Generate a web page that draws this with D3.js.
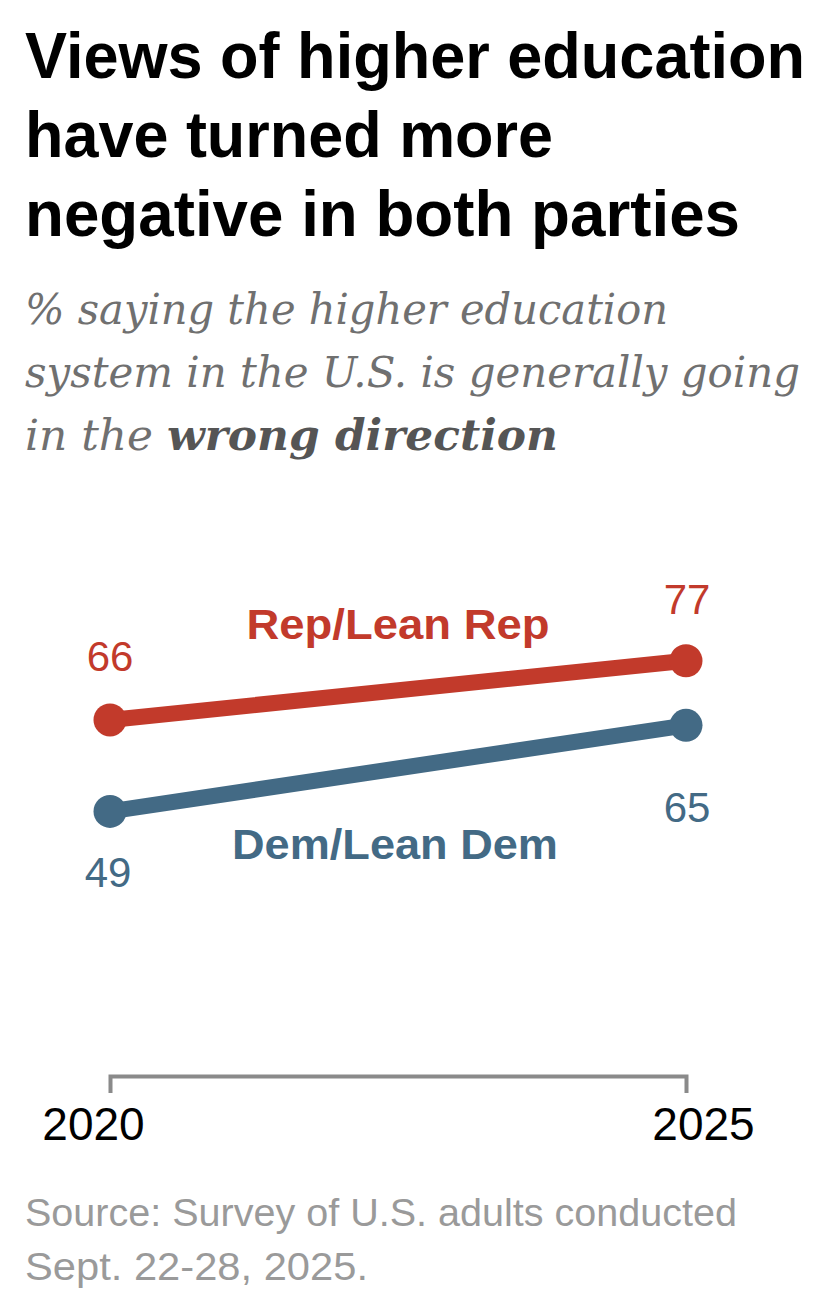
<!DOCTYPE html>
<html>
<head>
<meta charset="utf-8">
<script src="https://cdn.jsdelivr.net/npm/d3@7"></script>
<style>
  html, body { margin: 0; padding: 0; background: #ffffff; }
  svg { display: block; }
</style>
</head>
<body>
<svg id="chart" width="834" height="1300"></svg>
<script>
// ---- data ----
const years = [2020, 2025];
const tickLabels = ["2020", "2025"];
const seriesNames = ["Rep/Lean Rep", "Dem/Lean Dem"];
const repValues = [66, 77];
const demValues = [49, 65];
const titleLines = ["Views of higher education", "have turned more", "negative in both parties"];
const subtitleLines = ["% saying the higher education", "system in the U.S. is generally going"];
const subtitleLast = ["in the ", "wrong direction"];
const sourceLines = ["Source: Survey of U.S. adults conducted", "Sept. 22-28, 2025."];

// ---- setup ----
const svg = d3.select("#chart");
svg.append("rect").attr("width", 834).attr("height", 1300).attr("fill", "#fff");

const RED = "#c23a2b";
const BLUE = "#436a85";

// Title
const titleFont = "'Liberation Sans Narrow', 'Liberation Sans', Arial, sans-serif";
const titleWidths = [780, 528, 715];
const titleY = [78, 157, 236];
titleLines.forEach((t, i) => {
  svg.append("text")
    .attr("x", 25).attr("y", titleY[i])
    .attr("font-family", titleFont)
    .attr("font-weight", "bold")
    .attr("font-size", 64)
    .attr("fill", "#000")
    .attr("textLength", titleWidths[i])
    .attr("lengthAdjust", "spacingAndGlyphs")
    .text(t);
});

// Subtitle
const subFont = "'DejaVu Serif', 'Liberation Serif', Georgia, serif";
const subWidths = [643, 775, 533];
const subY = [324, 387, 450];
subtitleLines.forEach((t, i) => {
  svg.append("text")
    .attr("x", 25).attr("y", subY[i])
    .attr("font-family", subFont)
    .attr("font-style", "italic")
    .attr("font-size", 42)
    .attr("fill", "#707070")
    .attr("textLength", subWidths[i])
    .attr("lengthAdjust", "spacingAndGlyphs")
    .text(t);
});
const last = svg.append("text")
  .attr("x", 25).attr("y", subY[2])
  .attr("font-family", subFont)
  .attr("font-style", "italic")
  .attr("font-size", 42)
  .attr("fill", "#707070")
  .attr("textLength", subWidths[2])
  .attr("lengthAdjust", "spacingAndGlyphs");
last.append("tspan").text(subtitleLast[0]);
last.append("tspan").attr("font-weight", "bold").attr("fill", "#555").text(subtitleLast[1]);

// Scales
const x = d3.scaleLinear().domain([2020, 2025]).range([110, 686]);
const y = d3.scaleLinear().domain([0, 100]).range([1075, 537]);

// Axis
const axisG = svg.append("g")
  .attr("transform", "translate(0,1076)")
  .call(d3.axisBottom(x).tickValues(years).tickSizeInner(0).tickSizeOuter(17)
    .tickFormat((d, i) => tickLabels[i]).tickPadding(31));
axisG.select(".domain").attr("stroke", "#8a8a8a").attr("stroke-width", 4);
axisG.selectAll(".tick line").remove();
axisG.selectAll(".tick text")
  .attr("font-family", "'Liberation Sans', Arial, sans-serif")
  .attr("font-size", 46)
  .attr("fill", "#000")
  .attr("dx", (d, i) => i === 0 ? -17 : 17);

// Lines
const series = [
  { name: seriesNames[0], values: repValues, color: RED },
  { name: seriesNames[1], values: demValues, color: BLUE }
];
const line = d3.line().x((d, i) => x(years[i])).y(d => y(d));

series.forEach(s => {
  svg.append("path")
    .attr("d", line(s.values))
    .attr("fill", "none")
    .attr("stroke", s.color)
    .attr("stroke-width", 16)
    .attr("stroke-linecap", "round");
  svg.selectAll(null).data(s.values).enter().append("circle")
    .attr("cx", (d, i) => x(years[i]))
    .attr("cy", d => y(d))
    .attr("r", 16.5)
    .attr("fill", s.color);
});

// Value labels
const labelFont = "'Liberation Sans', Arial, sans-serif";
const repOffsets = [-49, -47];
const demOffsets = [76, 97];
svg.selectAll(null).data(repValues).enter().append("text")
  .attr("x", (d, i) => x(years[i]) + (i === 0 ? 0 : 1))
  .attr("y", (d, i) => y(d) + repOffsets[i])
  .attr("text-anchor", "middle")
  .attr("font-family", labelFont)
  .attr("font-size", 42)
  .attr("fill", RED)
  .text(d => d);
svg.selectAll(null).data(demValues).enter().append("text")
  .attr("x", (d, i) => x(years[i]) + (i === 0 ? -2 : 1))
  .attr("y", (d, i) => y(d) + demOffsets[i])
  .attr("text-anchor", "middle")
  .attr("font-family", labelFont)
  .attr("font-size", 42)
  .attr("fill", BLUE)
  .text(d => d);

// Series labels
svg.append("text")
  .attr("x", 398).attr("y", 639)
  .attr("text-anchor", "middle")
  .attr("font-family", titleFont)
  .attr("font-weight", "bold")
  .attr("font-size", 42)
  .attr("fill", RED)
  .attr("textLength", 303)
  .attr("lengthAdjust", "spacingAndGlyphs")
  .text(seriesNames[0]);
svg.append("text")
  .attr("x", 395).attr("y", 859)
  .attr("text-anchor", "middle")
  .attr("font-family", titleFont)
  .attr("font-weight", "bold")
  .attr("font-size", 42)
  .attr("fill", BLUE)
  .attr("textLength", 326)
  .attr("lengthAdjust", "spacingAndGlyphs")
  .text(seriesNames[1]);

// Source
const srcWidths = [712, 343];
const srcY = [1226, 1280];
sourceLines.forEach((t, i) => {
  svg.append("text")
    .attr("x", 25).attr("y", srcY[i])
    .attr("font-family", titleFont)
    .attr("font-size", 38)
    .attr("fill", "#9a9a9a")
    .attr("textLength", srcWidths[i])
    .attr("lengthAdjust", "spacingAndGlyphs")
    .text(t);
});
</script>
</body>
</html>
